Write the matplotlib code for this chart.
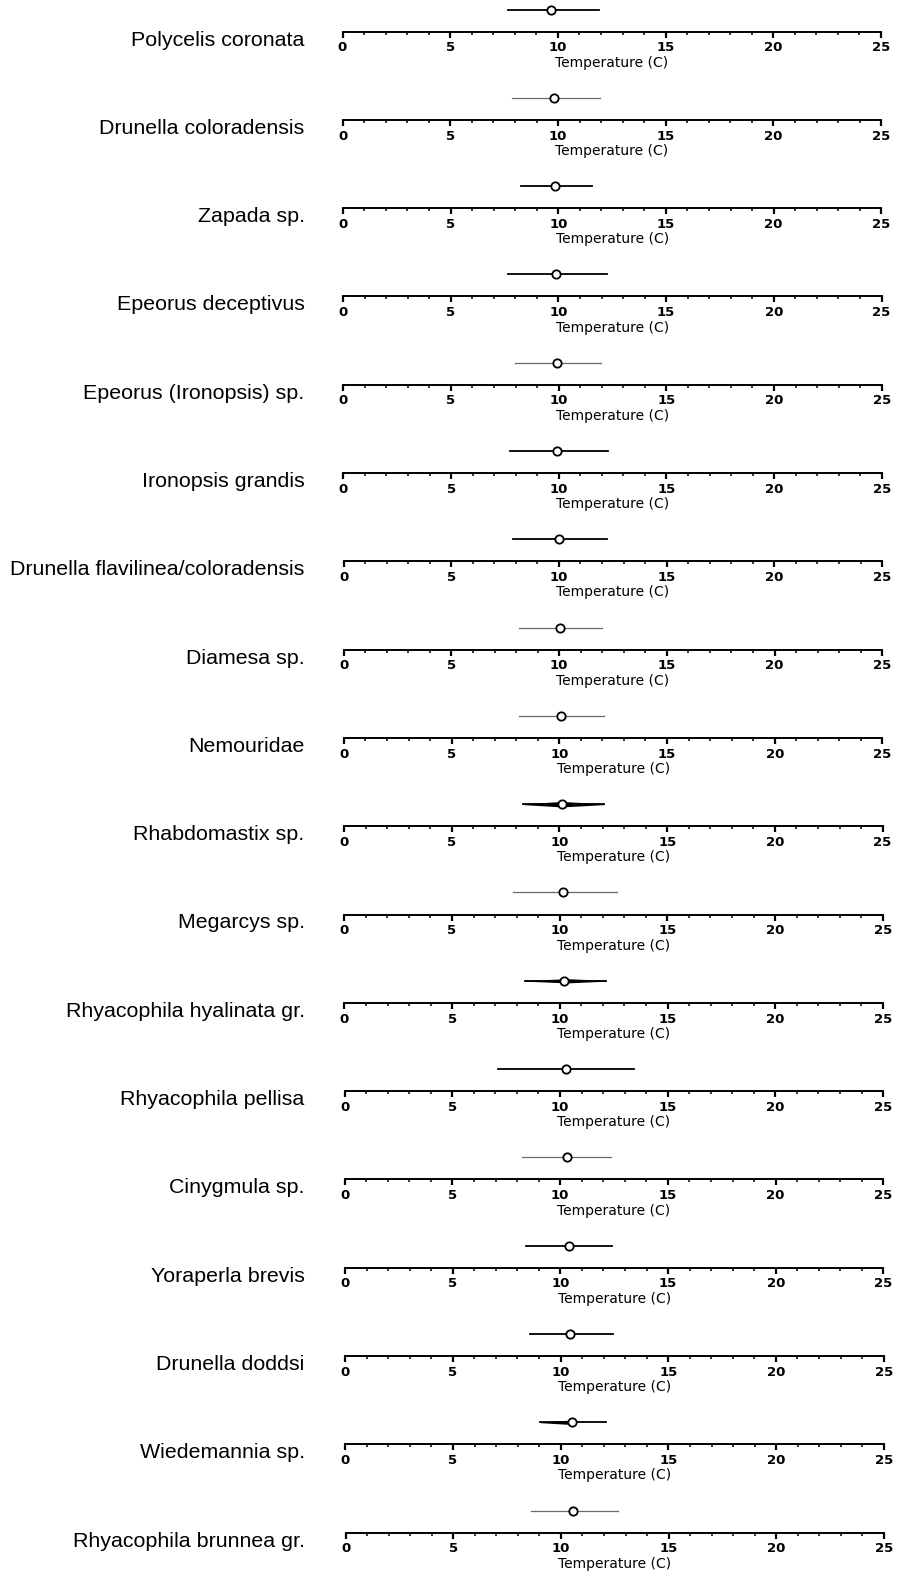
import numpy as np
import matplotlib.pyplot as plt

# taxa, top to bottom, with temperature optimum and tolerance range (C)
species = [
    'Polycelis coronata', 'Drunella coloradensis', 'Zapada sp.',
    'Epeorus deceptivus', 'Epeorus (Ironopsis) sp.', 'Ironopsis grandis',
    'Drunella flavilinea/coloradensis', 'Diamesa sp.', 'Nemouridae',
    'Rhabdomastix sp.', 'Megarcys sp.', 'Rhyacophila hyalinata gr.',
    'Rhyacophila pellisa', 'Cinygmula sp.', 'Yoraperla brevis',
    'Drunella doddsi', 'Wiedemannia sp.', 'Rhyacophila brunnea gr.',
]
optimum = [9.7, 9.8, 9.85, 9.9, 9.93, 9.93, 9.98, 10.03, 10.07,
           10.12, 10.17, 10.21, 10.26, 10.3, 10.38, 10.45, 10.52, 10.57]
low = [7.7, 7.85, 8.25, 7.65, 7.98, 7.75, 7.88, 8.12, 8.12,
       8.3, 7.84, 8.4, 7.14, 8.24, 8.4, 8.6, 9.05, 8.6]
high = [11.9, 11.95, 11.57, 12.27, 11.99, 12.27, 12.22, 11.99, 12.08,
        12.08, 12.64, 12.13, 13.43, 12.38, 12.4, 12.45, 12.1, 12.65]
xticks = [0, 5, 10, 15, 20, 25]

# drawing style per row (not data)
faint = [False, True, False, False, True, False, False, True, True,
         False, True, False, False, True, False, False, False, True]
wedge_left = [0, 0, 0, 0, 0, 0, 0, 0, 0, 5.5, 0, 4, 0, 0, 0, 0, 4.5, 0]
wedge_right = [0, 0, 0, 0, 0, 0, 0, 0, 0, 5.5, 0, 4.5, 0, 0, 0, 0, 0, 0]

plt.rcParams['font.family'] = ['DejaVu Sans']

W, H = 898, 1575
fig = plt.figure(figsize=(W / 100, H / 100), dpi=100)
fig.patch.set_facecolor('white')

ax_h = 40  # px height of each strip
for i, name in enumerate(species):
    y_axis = 31.5 + i * 88.3
    x_left = 342.5 + i * 3 / 17
    ax = fig.add_axes([x_left / W, 1 - y_axis / H, 538.5 / W, ax_h / H])
    ax.set_xlim(0, 25)
    ax.set_ylim(0, 1)
    for s in ['top', 'left', 'right']:
        ax.spines[s].set_visible(False)
    ax.spines['bottom'].set_linewidth(1.4)
    ax.set_yticks([])
    ax.set_xticks(xticks)
    ax.set_xticks(np.arange(0, 26, 1), minor=True)
    ax.tick_params(axis='x', which='major', length=4, width=1.6, pad=3,
                   labelsize=9.5, direction='out')
    ax.tick_params(axis='x', which='minor', length=2, width=1.1)
    for lab in ax.get_xticklabels():
        lab.set_fontweight('bold')
    ax.set_xlabel('Temperature (C)', fontsize=10, labelpad=1)
    ax.patch.set_alpha(0)

    ym = 22 / ax_h
    px = 1 / ax_h
    col = '#6a6a6a' if faint[i] else 'black'
    lw = 0.9 if faint[i] else 1.3
    ax.plot([low[i], high[i]], [ym, ym], color=col, lw=lw, zorder=2)
    # tapered thickening toward the optimum
    if wedge_left[i] > 0:
        xs = np.array([low[i], optimum[i]])
        hw = np.array([0.4, wedge_left[i] / 2]) * px
        ax.fill_between(xs, ym - hw, ym + hw, color='black', lw=0, zorder=2)
    if wedge_right[i] > 0:
        xs = np.array([optimum[i], high[i]])
        hw = np.array([wedge_right[i] / 2, 0.4]) * px
        ax.fill_between(xs, ym - hw, ym + hw, color='black', lw=0, zorder=2)
    ax.plot(optimum[i], ym, marker='o', ms=6, mfc='white', mec='black',
            mew=1.3, zorder=3)

    fig.text(304.5 / W, 1 - (y_axis + 8.5) / H, name, ha='right', va='center',
             fontsize=15.4, family='Liberation Sans')

fig.savefig('out.png', dpi=100)
